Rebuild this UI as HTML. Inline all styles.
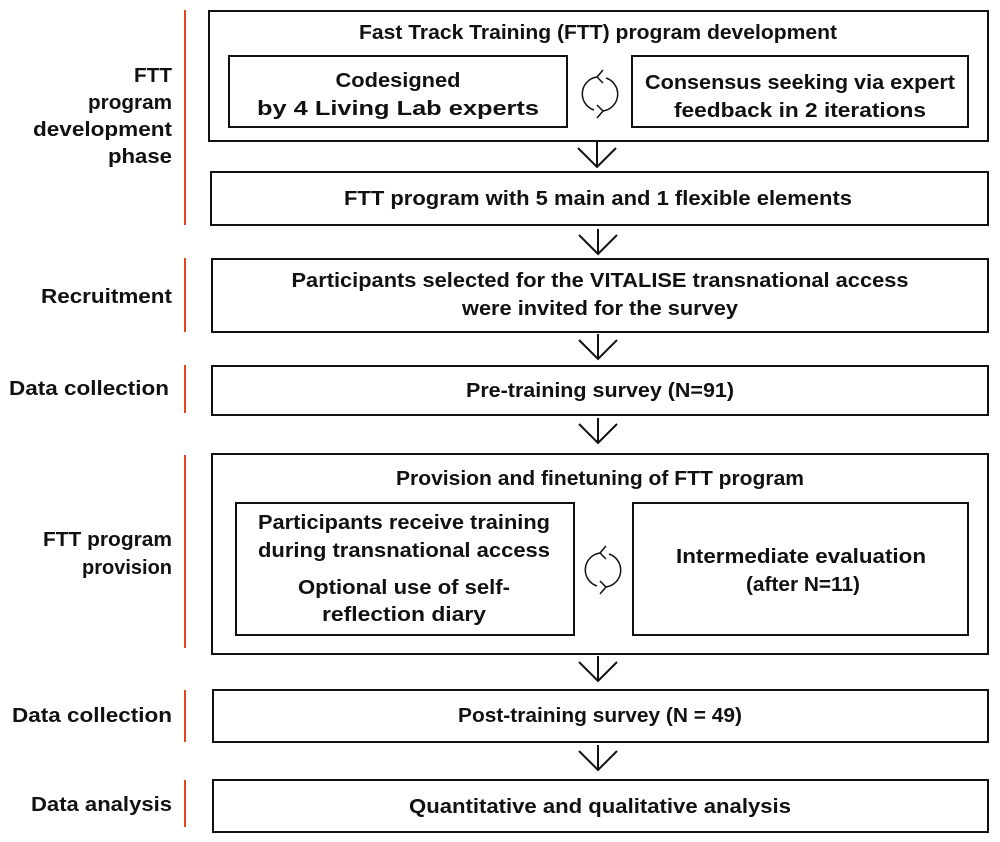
<!DOCTYPE html>
<html><head><meta charset="utf-8"><style>
html,body{margin:0;padding:0;background:#fff;}
svg{display:block}
text{font-family:"Liberation Sans",sans-serif;font-weight:bold;font-size:20px;fill:#111;}
</style></head><body>
<svg width="1000" height="842" viewBox="0 0 1000 842" xmlns="http://www.w3.org/2000/svg">
<defs>
<g id="cyc" fill="none" stroke="#111" stroke-width="1.5">
<path d="M-3,-17 A17,17 0 0 0 -6,16"/>
<path d="M3,17 A17,17 0 0 0 6,-16"/>
<path d="M3,-24 L-3,-17 L3,-11"/>
<path d="M-3,24 L3,17 L-3,11"/>
</g>
<g id="arr" fill="none" stroke="#111" stroke-width="2">
<path d="M0,0 V25"/><path d="M-19,6 L0,25 L19,6"/>
</g>
</defs>
<g fill="none" stroke="#e8451c" stroke-width="2">
<line x1="185" y1="10" x2="185" y2="225"/>
<line x1="185" y1="258" x2="185" y2="332"/>
<line x1="185" y1="365" x2="185" y2="413"/>
<line x1="185" y1="455" x2="185" y2="648"/>
<line x1="185" y1="690" x2="185" y2="742"/>
<line x1="185" y1="780" x2="185" y2="827"/>
</g>
<g fill="none" stroke="#111" stroke-width="2">
<rect x="209" y="11" width="779" height="130"/>
<rect x="229" y="56" width="338" height="71"/>
<rect x="632" y="56" width="336" height="71"/>
<rect x="211" y="172" width="777" height="53"/>
<rect x="212" y="259" width="776" height="73"/>
<rect x="212" y="366" width="776" height="49"/>
<rect x="212" y="454" width="776" height="200"/>
<rect x="236" y="503" width="338" height="132"/>
<rect x="633" y="503" width="335" height="132"/>
<rect x="213" y="690" width="775" height="52"/>
<rect x="213" y="780" width="775" height="52"/>
</g>
<use href="#cyc" x="600" y="94"/>
<use href="#cyc" x="603" y="570"/>
<use href="#arr" x="597" y="142"/>
<use href="#arr" x="598" y="229"/>
<use href="#arr" x="598" y="334"/>
<use href="#arr" x="598" y="418"/>
<use href="#arr" x="598" y="656"/>
<use href="#arr" x="598" y="745"/>
<g text-anchor="end">
<text x="172" y="82" textLength="38" lengthAdjust="spacingAndGlyphs">FTT</text>
<text x="172" y="109" textLength="84" lengthAdjust="spacingAndGlyphs">program</text>
<text x="172" y="136" textLength="139" lengthAdjust="spacingAndGlyphs">development</text>
<text x="172" y="163" textLength="64" lengthAdjust="spacingAndGlyphs">phase</text>
<text x="172" y="303" textLength="131" lengthAdjust="spacingAndGlyphs">Recruitment</text>
<text x="169" y="395" textLength="160" lengthAdjust="spacingAndGlyphs">Data collection</text>
<text x="172" y="546" textLength="129" lengthAdjust="spacingAndGlyphs">FTT program</text>
<text x="172" y="574" textLength="90" lengthAdjust="spacingAndGlyphs">provision</text>
<text x="172" y="722" textLength="160" lengthAdjust="spacingAndGlyphs">Data collection</text>
<text x="172" y="811" textLength="141" lengthAdjust="spacingAndGlyphs">Data analysis</text>
</g>
<g text-anchor="middle">
<text x="598" y="39" textLength="478" lengthAdjust="spacingAndGlyphs">Fast Track Training (FTT) program development</text>
<text x="398" y="87" textLength="125" lengthAdjust="spacingAndGlyphs">Codesigned</text>
<text x="398" y="115" textLength="282" lengthAdjust="spacingAndGlyphs">by 4 Living Lab experts</text>
<text x="800" y="89" textLength="310" lengthAdjust="spacingAndGlyphs">Consensus seeking via expert</text>
<text x="800" y="117" textLength="252" lengthAdjust="spacingAndGlyphs">feedback in 2 iterations</text>
<text x="598" y="205" textLength="508" lengthAdjust="spacingAndGlyphs">FTT program with 5 main and 1 flexible elements</text>
<text x="600" y="287" textLength="617" lengthAdjust="spacingAndGlyphs">Participants selected for the VITALISE transnational access</text>
<text x="600" y="315" textLength="276" lengthAdjust="spacingAndGlyphs">were invited for the survey</text>
<text x="600" y="397" textLength="268" lengthAdjust="spacingAndGlyphs">Pre-training survey (N=91)</text>
<text x="600" y="485" textLength="408" lengthAdjust="spacingAndGlyphs">Provision and finetuning of FTT program</text>
<text x="404" y="529" textLength="292" lengthAdjust="spacingAndGlyphs">Participants receive training</text>
<text x="404" y="557" textLength="292" lengthAdjust="spacingAndGlyphs">during transnational access</text>
<text x="404" y="594" textLength="212" lengthAdjust="spacingAndGlyphs">Optional use of self-</text>
<text x="404" y="621" textLength="164" lengthAdjust="spacingAndGlyphs">reflection diary</text>
<text x="801" y="563" textLength="250" lengthAdjust="spacingAndGlyphs">Intermediate evaluation</text>
<text x="803" y="591" textLength="114" lengthAdjust="spacingAndGlyphs">(after N=11)</text>
<text x="600" y="722" textLength="284" lengthAdjust="spacingAndGlyphs">Post-training survey (N = 49)</text>
<text x="600" y="813" textLength="382" lengthAdjust="spacingAndGlyphs">Quantitative and qualitative analysis</text>
</g>
</svg>
</body></html>
